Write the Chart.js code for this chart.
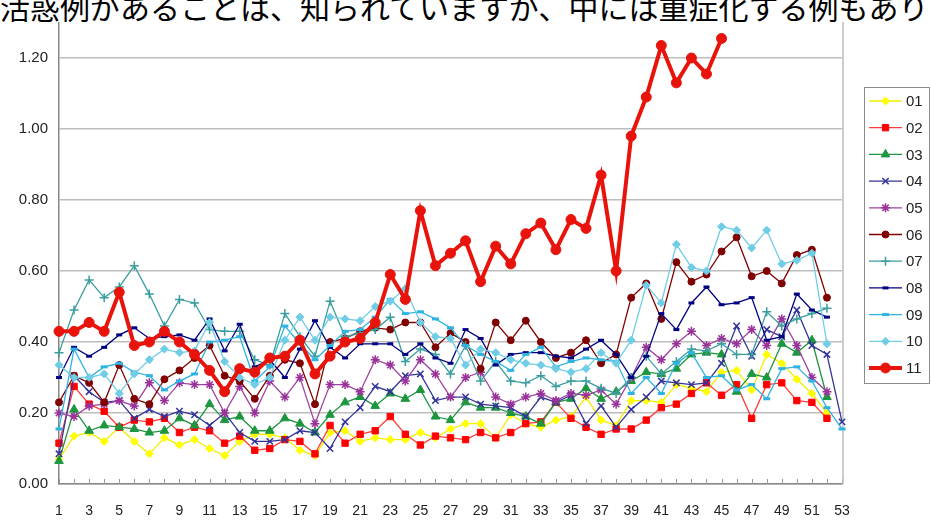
<!DOCTYPE html>
<html>
<head>
<meta charset="utf-8">
<script src="https://cdn.jsdelivr.net/npm/chart.js@4.4.0/dist/chart.umd.min.js"></script>
<style>
  html, body { margin: 0; padding: 0; background: #fff; overflow: hidden; }
  #wrap { position: relative; width: 931px; height: 520px; overflow: hidden; }
  #box { position: absolute; left: 0; top: -33px; width: 931px; height: 553px; }
  #caption {
    position: absolute; left: 0; top: -9px; width: 931px; height: 31px;
    background: #fff; white-space: nowrap; overflow: hidden;
    font-family: "Noto Sans CJK JP", sans-serif; font-size: 30px; line-height: 31px; color: #000;
  }
</style>
</head>
<body>
<div id="wrap">
  <div id="box"><canvas id="chart"></canvas></div>
  <div id="caption">活惑例があることは、知られていますが、中には重症化する例もあり</div>
</div>
<script>
// weeks 1..53
const weeks = [];
for (let w = 1; w <= 53; w++) weeks.push(String(w));

const names = ['01', '02', '03', '04', '05', '06', '07', '08', '09', '10', '11'];

const s01 = [0.07, 0.135, 0.145, 0.12, 0.16, 0.12, 0.085, 0.13, 0.11, 0.125, 0.10, 0.08, 0.12,
  0.14, 0.14, 0.13, 0.095, 0.08, 0.145, 0.15, 0.12, 0.13, 0.125, 0.125, 0.145, 0.13,
  0.155, 0.17, 0.17, 0.13, 0.195, 0.17, 0.16, 0.18, 0.19, 0.245, 0.18, 0.165, 0.235,
  0.235, 0.23, 0.28, 0.27, 0.26, 0.315, 0.32, 0.265, 0.365, 0.34, 0.295, 0.255, 0.20];
const s02 = [0.115, 0.275, 0.225, 0.205, 0.16, 0.18, 0.175, 0.185, 0.145, 0.16, 0.15, 0.115, 0.135,
  0.095, 0.10, 0.125, 0.12, 0.085, 0.165, 0.115, 0.14, 0.15, 0.19, 0.14, 0.11, 0.135,
  0.13, 0.125, 0.145, 0.13, 0.145, 0.17, 0.175, 0.23, 0.185, 0.16, 0.14, 0.155, 0.155,
  0.18, 0.215, 0.225, 0.255, 0.285, 0.25, 0.28, 0.185, 0.28, 0.285, 0.235, 0.23, 0.185];
const s03 = [0.065, 0.21, 0.15, 0.165, 0.16, 0.155, 0.145, 0.15, 0.185, 0.165, 0.225, 0.18, 0.19,
  0.15, 0.15, 0.185, 0.17, 0.145, 0.195, 0.23, 0.245, 0.22, 0.255, 0.24, 0.265, 0.19,
  0.18, 0.23, 0.215, 0.215, 0.20, 0.19, 0.17, 0.23, 0.24, 0.27, 0.24, 0.26, 0.29,
  0.315, 0.31, 0.325, 0.365, 0.37, 0.365, 0.26, 0.31, 0.30, 0.395, 0.37, 0.405, 0.245];
const s04 = [0.085, 0.305, 0.26, 0.23, 0.235, 0.185, 0.21, 0.19, 0.205, 0.195, 0.165, 0.20, 0.145,
  0.12, 0.12, 0.125, 0.15, 0.145, 0.10, 0.175, 0.215, 0.275, 0.26, 0.305, 0.31, 0.235,
  0.245, 0.245, 0.225, 0.22, 0.215, 0.19, 0.245, 0.23, 0.25, 0.17, 0.22, 0.16, 0.21,
  0.245, 0.29, 0.285, 0.28, 0.285, 0.34, 0.445, 0.36, 0.435, 0.415, 0.49, 0.39, 0.365, 0.175];
const s05 = [0.20, 0.19, 0.22, 0.225, 0.235, 0.22, 0.285, 0.235, 0.285, 0.28, 0.28, 0.20, 0.275,
  0.20, 0.29, 0.245, 0.30, 0.17, 0.28, 0.28, 0.26, 0.35, 0.335, 0.29, 0.35, 0.31,
  0.245, 0.30, 0.315, 0.245, 0.225, 0.245, 0.255, 0.235, 0.255, 0.25, 0.265, 0.225, 0.30,
  0.385, 0.35, 0.395, 0.43, 0.39, 0.41, 0.395, 0.435, 0.39, 0.465, 0.39, 0.30, 0.26];
const s06 = [0.23, 0.305, 0.285, 0.23, 0.335, 0.24, 0.225, 0.295, 0.32, 0.355, 0.39, 0.305, 0.29,
  0.24, 0.305, 0.35, 0.34, 0.225, 0.40, 0.41, 0.43, 0.44, 0.435, 0.455, 0.455, 0.385,
  0.425, 0.40, 0.325, 0.455, 0.405, 0.46, 0.40, 0.355, 0.37, 0.405, 0.34, 0.365, 0.525,
  0.565, 0.465, 0.625, 0.57, 0.59, 0.655, 0.695, 0.585, 0.60, 0.565, 0.645, 0.66, 0.525];
const s07 = [0.37, 0.49, 0.575, 0.525, 0.555, 0.615, 0.535, 0.445, 0.52, 0.51, 0.435, 0.43, 0.43,
  0.35, 0.335, 0.48, 0.415, 0.36, 0.515, 0.415, 0.425, 0.435, 0.47, 0.345, 0.38, 0.365,
  0.31, 0.39, 0.29, 0.345, 0.29, 0.285, 0.305, 0.275, 0.29, 0.29, 0.27, 0.255, 0.30,
  0.36, 0.31, 0.345, 0.38, 0.375, 0.395, 0.365, 0.365, 0.485, 0.445, 0.465, 0.48, 0.495];
const s08 = [0.30, 0.385, 0.36, 0.385, 0.42, 0.44, 0.41, 0.415, 0.42, 0.405, 0.465, 0.375, 0.45,
  0.33, 0.35, 0.30, 0.38, 0.46, 0.385, 0.355, 0.395, 0.395, 0.395, 0.365, 0.395, 0.355,
  0.34, 0.435, 0.41, 0.335, 0.365, 0.37, 0.37, 0.36, 0.355, 0.38, 0.405, 0.365, 0.30,
  0.36, 0.48, 0.435, 0.51, 0.555, 0.505, 0.51, 0.525, 0.405, 0.415, 0.535, 0.49, 0.47];
const s09 = [0.155, 0.38, 0.30, 0.33, 0.34, 0.315, 0.305, 0.265, 0.29, 0.31, 0.40, 0.405, 0.415,
  0.29, 0.33, 0.445, 0.395, 0.35, 0.39, 0.43, 0.435, 0.47, 0.52, 0.48, 0.485, 0.465,
  0.44, 0.39, 0.365, 0.345, 0.32, 0.365, 0.385, 0.33, 0.345, 0.355, 0.35, 0.345, 0.255,
  0.30, 0.255, 0.34, 0.37, 0.30, 0.305, 0.265, 0.28, 0.24, 0.325, 0.33, 0.29, 0.215, 0.155];
const s10 = [0.335, 0.30, 0.30, 0.31, 0.255, 0.31, 0.35, 0.38, 0.37, 0.375, 0.455, 0.345, 0.30,
  0.28, 0.30, 0.405, 0.47, 0.405, 0.47, 0.465, 0.46, 0.50, 0.515, 0.55, 0.455, 0.415,
  0.41, 0.335, 0.38, 0.37, 0.35, 0.34, 0.335, 0.325, 0.315, 0.325, 0.37, 0.34, 0.405,
  0.56, 0.51, 0.675, 0.61, 0.60, 0.725, 0.715, 0.665, 0.715, 0.62, 0.63, 0.65, 0.395];
const s11 = [0.43, 0.43, 0.455, 0.43, 0.54, 0.39, 0.40, 0.43, 0.40, 0.365, 0.32, 0.26, 0.325,
  0.315, 0.355, 0.36, 0.405, 0.31, 0.36, 0.40, 0.41, 0.455, 0.59, 0.52, 0.77, 0.615,
  0.65, 0.685, 0.57, 0.67, 0.62, 0.705, 0.735, 0.66, 0.745, 0.72, 0.87, 0.60, 0.98,
  1.09, 1.235, 1.13, 1.20, 1.155, 1.255];

const yTicks = [0, 0.2, 0.4, 0.6, 0.8, 1.0, 1.2, 1.4];

const seriesData = [s01, s02, s03, s04, s05, s06, s07, s08, s09, s10, s11];
const lineColors = ['#F2EE00', '#FF3B3B', '#1E9640', '#33339A', '#A040A0', '#800000', '#3A9E9E', '#000080', '#2FB3E0', '#70CDE6', '#E8140C'];
const markColors = ['#FFFF00', '#FF0000', '#1E9640', '#33339A', '#993399', '#800000', '#3A9E9E', '#000080', '#2FB3E0', '#70CDE6', '#E8140C'];
const markStyles = ['rectRot', 'rect', 'triangle', 'crossRot', 'star', 'circle', 'cross', 'line', 'line', 'rectRot', 'circle'];
const markSizes = [4, 4.5, 5, 4.5, 4.5, 3.5, 4.5, 3, 3.5, 4, 5];

const datasets = seriesData.map((d, i) => ({
  label: names[i],
  data: d,
  borderColor: lineColors[i],
  backgroundColor: markColors[i],
  borderWidth: i === 10 ? 4 : 1.3,
  pointStyle: markStyles[i],
  pointRadius: markSizes[i],
  pointBackgroundColor: markColors[i],
  pointBorderColor: markColors[i],
  pointBorderWidth: (markStyles[i] === 'line') ? 3 : (markStyles[i] === 'cross' || markStyles[i] === 'crossRot' || markStyles[i] === 'star') ? 1.5 : 1,
  tension: 0,
  fill: false,
  order: 10 - i,
}));

// Excel-style legend with a line and marker
const boxLegend = {
  id: 'boxLegend',
  afterDraw(chart) {
    const ctx = chart.ctx;
    const top = 87 + 33; // canvas coords = page y + 33
    ctx.save();
    ctx.strokeStyle = '#8c8c8c';
    ctx.lineWidth = 1;
    ctx.strokeRect(864.5, top + 0.5, 65, 296);
    ctx.font = '15px "Liberation Sans", Arial, sans-serif';
    ctx.textBaseline = 'middle';
    ctx.textAlign = 'left';
    chart.data.datasets.forEach((ds, i) => {
      const y = top + 14 + i * 26.7;
      ctx.strokeStyle = ds.borderColor;
      ctx.lineWidth = ds.borderWidth;
      ctx.beginPath();
      ctx.moveTo(869, y);
      ctx.lineTo(902, y);
      ctx.stroke();
      ctx.fillStyle = ds.pointBackgroundColor;
      ctx.strokeStyle = ds.pointBorderColor;
      ctx.lineWidth = ds.pointBorderWidth;
      Chart.helpers.drawPoint(ctx, {
        pointStyle: ds.pointStyle, radius: ds.pointRadius, borderWidth: ds.pointBorderWidth, rotation: 0
      }, 885.5, y);
      ctx.fillStyle = '#222';
      ctx.fillText(ds.label, 906, y + 1);
    });
    ctx.restore();
  }
};

// inside tick marks on the category axis + right border of plot
const frame = {
  id: 'frame',
  beforeDatasetsDraw(chart) {
    const ctx = chart.ctx;
    const xs = chart.scales.x;
    const a = chart.chartArea;
    ctx.save();
    ctx.strokeStyle = '#999';
    ctx.lineWidth = 1;
    ctx.beginPath();
    for (let i = 0; i < weeks.length; i++) {
      const x = Math.round(xs.getPixelForValue(i)) + 0.5;
      ctx.moveTo(x, a.bottom);
      ctx.lineTo(x, a.bottom - 5);
    }
    ctx.stroke();
    ctx.strokeStyle = '#bdbdbd';
    ctx.lineWidth = 1.5;
    ctx.beginPath();
    ctx.moveTo(a.right + 1, a.top);
    ctx.lineTo(a.right + 1, a.bottom);
    ctx.stroke();
    ctx.restore();
  }
};

new Chart(document.getElementById('chart'), {
  type: 'line',
  data: { labels: weeks, datasets: datasets },
  options: {
    responsive: true,
    maintainAspectRatio: false,
    animation: false,
    layout: { padding: { top: 6, right: 89, bottom: 0, left: 0 } },
    plugins: { legend: { display: false }, tooltip: { enabled: false } },
    scales: {
      x: {
        type: 'category',
        offset: false,
        grid: { display: false },
        border: { display: true, color: '#888', width: 1.5 },
        afterFit(s) { s.height = 36; },
        ticks: {
          autoSkip: false,
          maxRotation: 0,
          padding: 11,
          color: '#222',
          font: { family: '"Liberation Sans", Arial, sans-serif', size: 14 },
          callback(v, i) { return i % 2 === 0 ? weeks[i] : ''; }
        }
      },
      y: {
        min: 0,
        max: 1.4,
        afterFit(s) { s.width = 59; },
        afterBuildTicks(s) { s.ticks = yTicks.map(v => ({ value: v })); },
        grid: { color: '#bdbdbd', lineWidth: 1.5, drawTicks: false },
        border: { display: true, color: '#888', width: 1.5 },
        ticks: {
          padding: 11,
          color: '#222',
          font: { family: '"Liberation Sans", Arial, sans-serif', size: 15 },
          callback(v) { return v.toFixed(2); }
        }
      }
    }
  },
  plugins: [frame, boxLegend]
});
</script>
</body>
</html>
